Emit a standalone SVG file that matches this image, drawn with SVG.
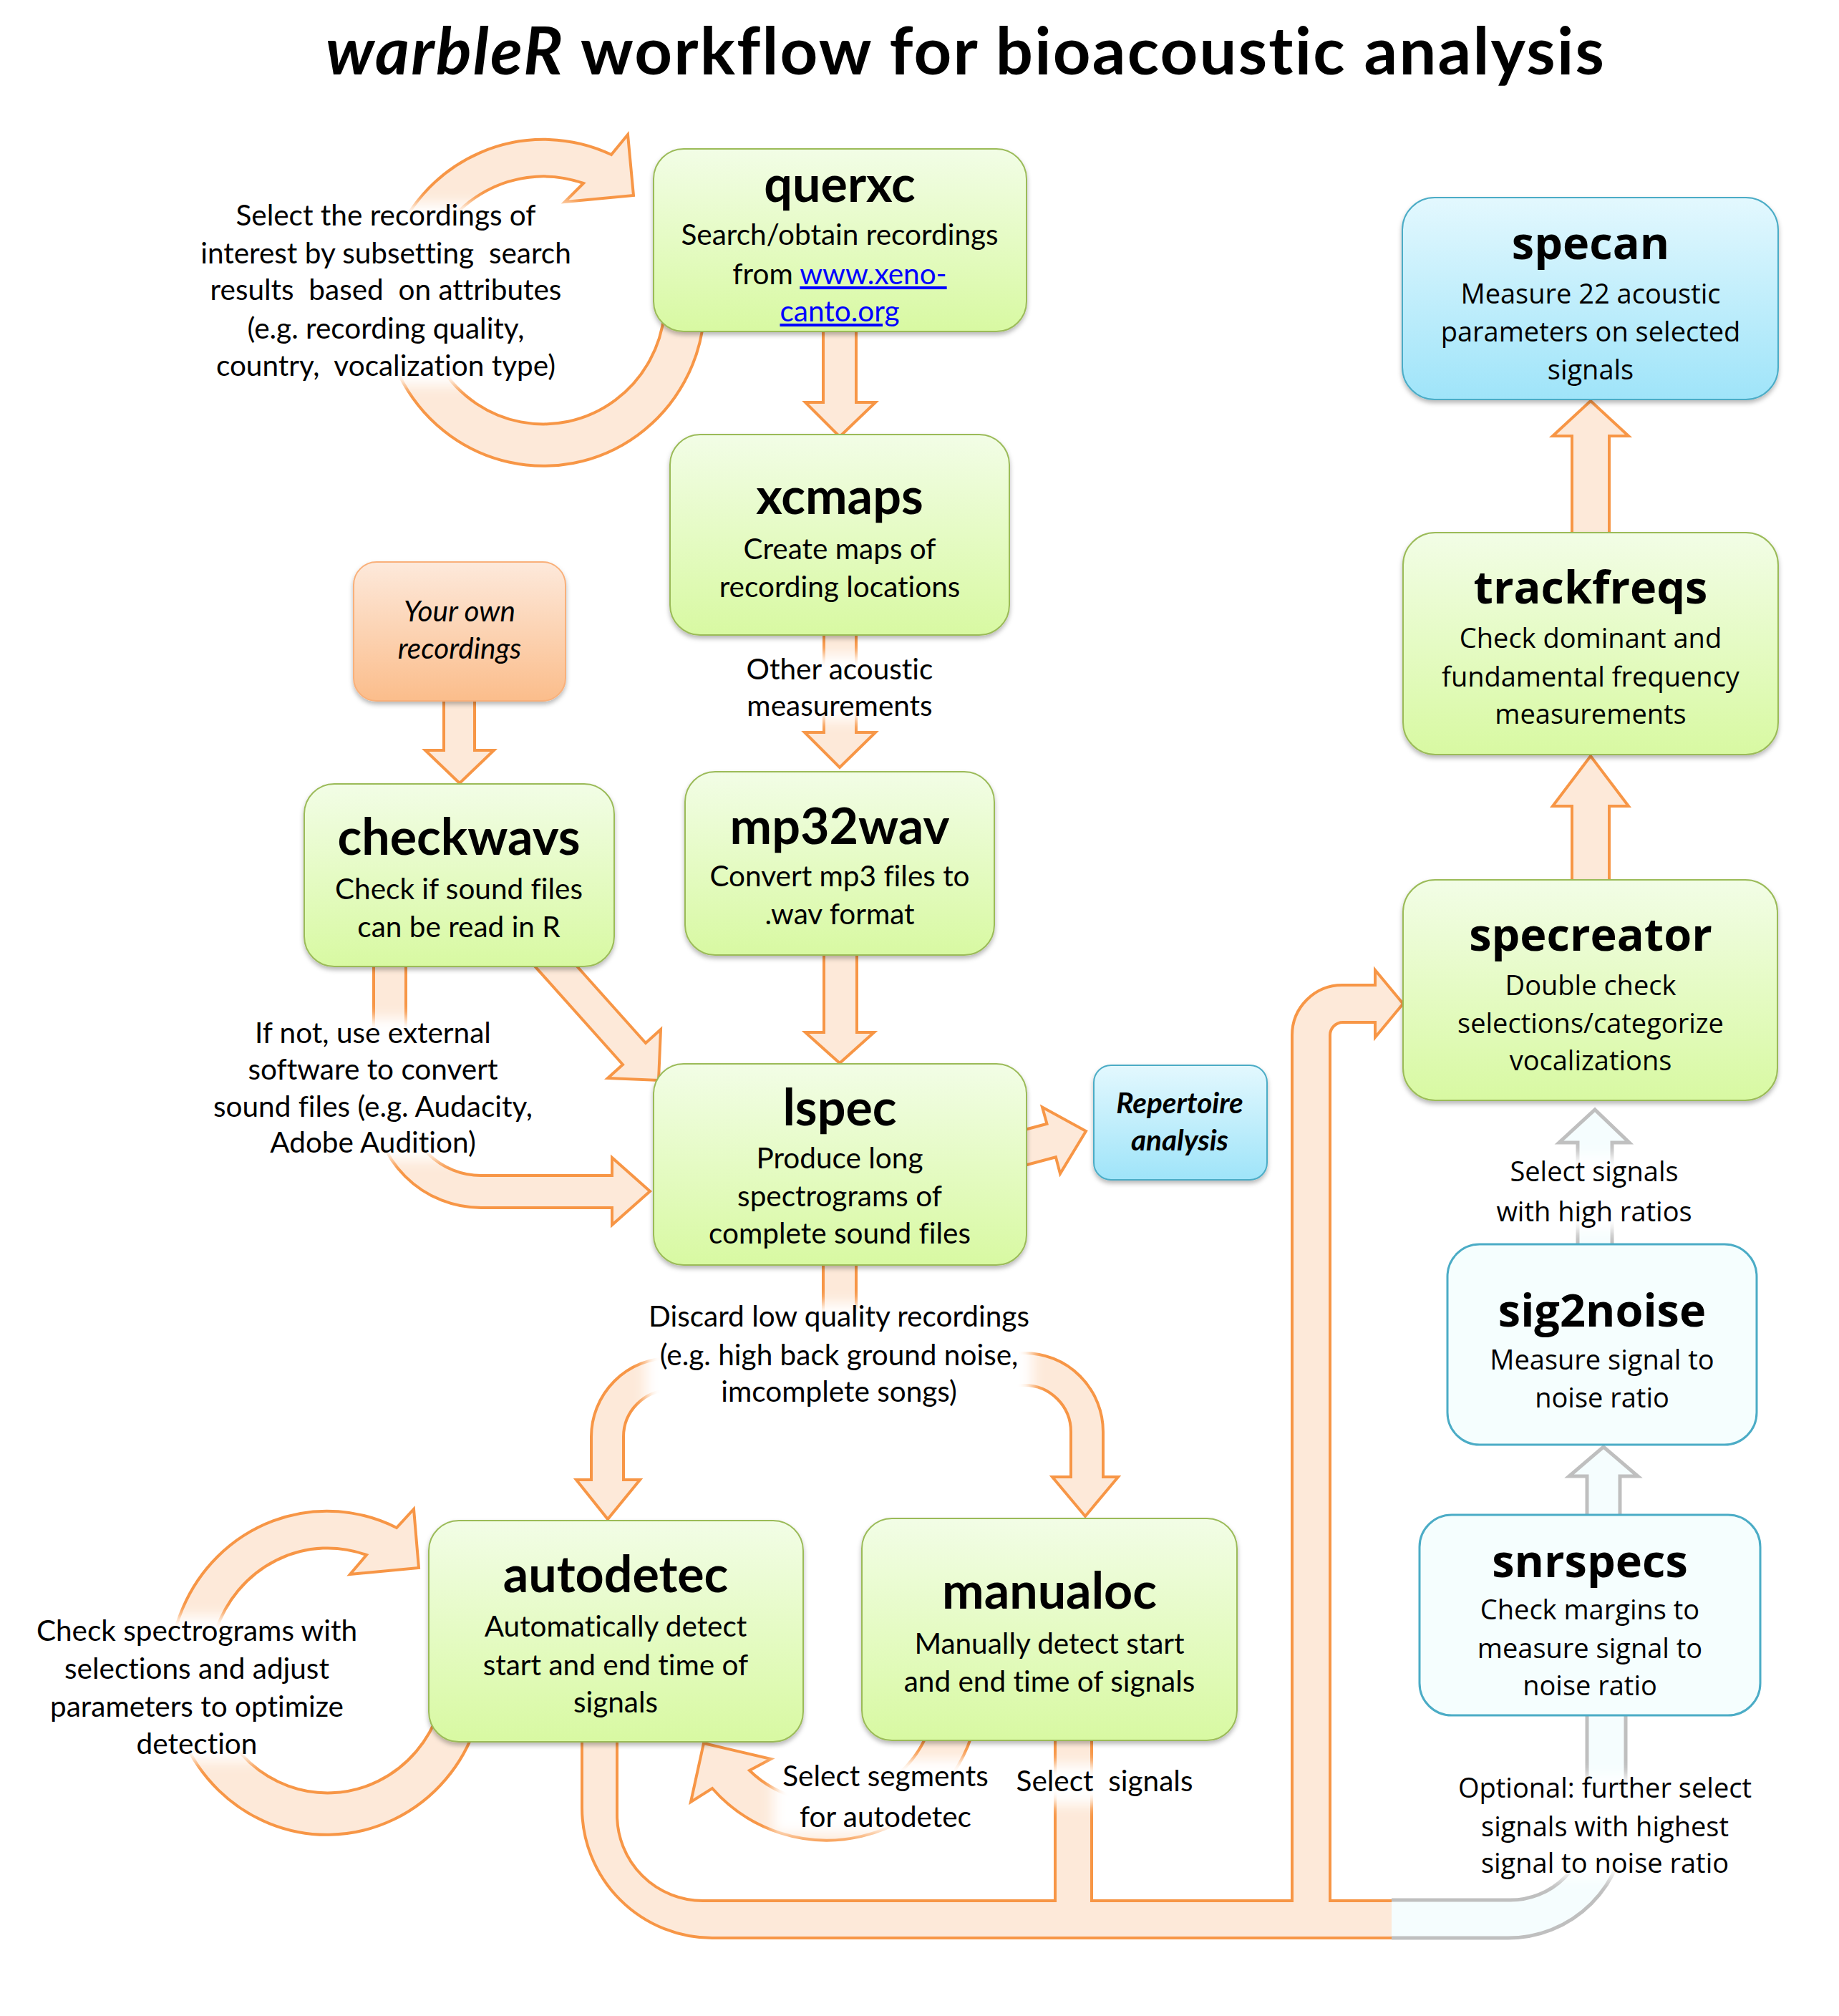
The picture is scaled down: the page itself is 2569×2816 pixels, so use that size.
<svg xmlns="http://www.w3.org/2000/svg" width="2569" height="2816" viewBox="0 0 2569 2816">
  <defs>
    <linearGradient id="gGreen" x1="0" y1="0" x2="0" y2="1">
      <stop offset="0" stop-color="#f2fde6"/>
      <stop offset="1" stop-color="#d8f9a2"/>
    </linearGradient>
    <linearGradient id="gBlue" x1="0" y1="0" x2="0" y2="1">
      <stop offset="0" stop-color="#e3f8fe"/>
      <stop offset="1" stop-color="#9fe4f9"/>
    </linearGradient>
    <linearGradient id="gOrange" x1="0" y1="0" x2="0" y2="1">
      <stop offset="0" stop-color="#fde9db"/>
      <stop offset="1" stop-color="#fbbd8b"/>
    </linearGradient>
    <filter id="shadow" x="-10%" y="-10%" width="120%" height="130%">
      <feDropShadow dx="0" dy="4" stdDeviation="3" flood-color="#000" flood-opacity="0.28"/>
    </filter>
    <filter id="soft" x="-20%" y="-40%" width="140%" height="180%">
      <feGaussianBlur stdDeviation="9"/>
    </filter>
    <style>
      .green { fill: url(#gGreen); stroke: #9bbb59; stroke-width: 2; filter: url(#shadow); }
      .blue { fill: url(#gBlue); stroke: #4bacc6; stroke-width: 2; filter: url(#shadow); }
      .pale { fill: #f5fefe; stroke: #4bacc6; stroke-width: 3; }
      .own { fill: url(#gOrange); stroke: #f9b07a; stroke-width: 2; filter: url(#shadow); }
      .arrow { fill: #fde9d9; stroke: #f79646; stroke-width: 4; stroke-linejoin: miter; }
      .garrow { fill: #f5fdfe; stroke: #bfbfbf; stroke-width: 5; stroke-linejoin: miter; }
      .fade { fill: #ffffff; filter: url(#soft); }
      text { fill: #000; text-anchor: middle; font-variant-ligatures: none; }
      .ttl { font-family: Lato, "Liberation Sans", sans-serif; font-weight: 700; font-size: 70px; }
      .sub { font-family: Lato, "Liberation Sans", sans-serif; font-size: 40.5px; }
      .ttlr { font-family: "Open Sans", "Liberation Sans", sans-serif; font-weight: 700; font-size: 63px; }
      .subr { font-family: "Open Sans", "Liberation Sans", sans-serif; font-size: 38px; }
      .lab { font-family: Lato, "Liberation Sans", sans-serif; font-size: 40.5px; white-space: pre; }
      .labr { font-family: "Open Sans", "Liberation Sans", sans-serif; font-size: 38px; }
      .link { fill: #0000ff; text-decoration: underline; }
    </style>
  </defs>

  <rect width="2569" height="2816" fill="#ffffff"/>

  <!-- title -->
  <text x="455" y="104" textLength="1786" style="text-anchor:start;font-family:Lato,'Liberation Sans',sans-serif;font-weight:700;font-size:92px"><tspan font-style="italic">warbleR</tspan> workflow for bioacoustic analysis</text>

  <!-- connectors -->
  <g id="connectors">
    <!-- querxc self loop -->
    <path class="arrow" d="M983,447 A225,228 0 1 1 854,216 L877,188 L885,273 L789,282 L815,256 A170,173 0 1 0 928,439 Z"/>
    <!-- querxc -> xcmaps -->
    <path class="arrow" d="M1150,455 L1150,562 L1125,562 L1173,610 L1223,562 L1196,562 L1196,455 Z"/>
    <!-- xcmaps -> mp32wav -->
    <path class="arrow" d="M1151,880 L1151,1023 L1124,1023 L1173,1072 L1223,1023 L1196,1023 L1196,880 Z"/>
    <!-- own recordings -> checkwavs -->
    <path class="arrow" d="M620,975 L620,1048 L594,1048 L642,1094 L690,1048 L663,1048 L663,975 Z"/>
    <!-- mp32wav -> lspec -->
    <path class="arrow" d="M1151,1330 L1151,1442 L1125,1442 L1173,1485 L1221,1442 L1197,1442 L1197,1330 Z"/>
    <!-- checkwavs -> lspec (direct) -->
    <path class="arrow" d="M766,1305 L902,1457 L923,1438 L920,1509 L849,1506 L870,1487 L734,1335 Z"/>
    <!-- checkwavs -> lspec (via external software) -->
    <path class="arrow" d="M522,1345 L522,1537 A150,150 0 0 0 672,1687 L855,1687 L855,1711 L908,1664 L855,1617 L855,1642 L672,1642 A105,105 0 0 1 567,1537 L567,1345 Z"/>
    <!-- lspec -> repertoire analysis -->
    <path class="arrow" d="M1404.5,1585.3 L1462.5,1569.8 L1456,1546.6 L1517,1580 L1481,1639.4 L1474.9,1616.2 L1416.9,1631.7 Z"/>
    <!-- lspec trunk and branches -->
    <path class="arrow" d="M1150,1760 L1150,1925 L1196,1925 L1196,1760 Z"/>
    <path class="arrow" d="M1000,1897 L936,1897 A110,110 0 0 0 826,2007 L826,2067 L805,2067 L849,2122 L894,2067 L871,2067 L871,2007 A65,65 0 0 1 936,1942 L1000,1942 Z"/>
    <path class="arrow" d="M1350,1890 L1431,1890 A110,110 0 0 1 1541,2000 L1541,2063 L1562,2063 L1516,2118 L1470,2063 L1496,2063 L1496,2000 A65,65 0 0 0 1431,1935 L1350,1935 Z"/>
    <!-- autodetec self loop -->
    <path class="arrow" d="M665,2410 A220,226 0 1 1 554,2134 L578,2108 L585,2190 L489,2199 L512,2172 A165,171 0 1 0 613,2391 Z"/>
    <!-- manualoc -> autodetec (segments) -->
    <path class="arrow" d="M1361,2412 A213,213 0 0 1 995,2498 L965,2517 L983,2435 L1077,2457 L1047,2473 A153,153 0 0 0 1303,2397 Z"/>
    <!-- selected signals -> specreator -->
    <path class="arrow" d="M1944,2655 L1858,2655 L1858,1446 A18,18 0 0 1 1876,1428 L1921,1428 L1921,1449 L1960,1402 L1921,1355 L1921,1376 L1875,1376 A70,70 0 0 0 1805,1446 L1805,2655 L1525,2655 L1525,2425 L1474,2425 L1474,2655 L982,2655 A120,120 0 0 1 862,2535 L862,2425 L813,2425 L813,2525 A182,182 0 0 0 995,2707 L1944,2707"/>
    <!-- optional path to snrspecs -->
    <path class="garrow" d="M1944,2707 L2107,2707 A164,164 0 0 0 2271,2543 L2271,2390 L2217,2390 L2217,2547 A107,107 0 0 1 2110,2654 L1944,2654"/>
    <!-- snrspecs -> sig2noise -->
    <path class="garrow" d="M2217,2120 L2217,2062 L2192,2062 L2240,2021 L2288,2062 L2263,2062 L2263,2120 Z"/>
    <!-- sig2noise -> specreator -->
    <path class="garrow" d="M2204,1745 L2204,1596 L2178,1596 L2228,1550 L2276,1596 L2252,1596 L2252,1745 Z"/>
    <!-- specreator -> trackfreqs -->
    <path class="arrow" d="M2196,1236 L2196,1126 L2169,1126 L2222,1056 L2275,1126 L2248,1126 L2248,1236 Z"/>
    <!-- trackfreqs -> specan -->
    <path class="arrow" d="M2196,750 L2196,609 L2169,609 L2222,560 L2275,609 L2248,609 L2248,750 Z"/>
  </g>

  <!-- connector labels -->
  <g id="labels">
    <rect class="fade" x="278" y="284" width="525" height="254"/>
    <text class="lab" xml:space="preserve"><tspan x="539" y="315">Select the recordings of</tspan><tspan x="539" y="368">interest by subsetting  search</tspan><tspan x="539" y="419">results  based  on attributes</tspan><tspan x="539" y="473">(e.g. recording quality,</tspan><tspan x="539" y="525">country,  vocalization type)</tspan></text>

    <rect class="fade" x="1038" y="914" width="270" height="92"/>
    <text class="lab"><tspan x="1173" y="949">Other acoustic</tspan><tspan x="1173" y="1000">measurements</tspan></text>

    <rect class="fade" x="298" y="1422" width="450" height="198"/>
    <text class="lab"><tspan x="521" y="1457">If not, use external</tspan><tspan x="521" y="1508">software to convert</tspan><tspan x="521" y="1560">sound files (e.g. Audacity,</tspan><tspan x="521" y="1610">Adobe Audition)</tspan></text>

    <rect class="fade" x="902" y="1820" width="540" height="152"/>
    <text class="lab"><tspan x="1172" y="1853">Discard low quality recordings</tspan><tspan x="1172" y="1907">(e.g. high back ground noise,</tspan><tspan x="1172" y="1958">imcomplete songs)</tspan></text>

    <rect class="fade" x="46" y="2257" width="458" height="203"/>
    <text class="lab"><tspan x="275" y="2292">Check spectrograms with</tspan><tspan x="275" y="2345">selections and adjust</tspan><tspan x="275" y="2398">parameters to optimize</tspan><tspan x="275" y="2450">detection</tspan></text>

    <rect class="fade" x="1080" y="2457" width="316" height="105"/>
    <text class="lab"><tspan x="1237" y="2495">Select segments</tspan><tspan x="1237" y="2552">for autodetec</tspan></text>

    <rect class="fade" x="1410" y="2464" width="268" height="56"/>
    <text class="lab" xml:space="preserve" x="1543" y="2502">Select  signals</text>

    <rect class="fade" x="2072" y="1614" width="312" height="106"/>
    <text class="labr" font-size="41"><tspan x="2227" y="1650">Select signals</tspan><tspan x="2227" y="1706">with high ratios</tspan></text>

    <rect class="fade" x="2032" y="2480" width="422" height="144"/>
    <text class="labr"><tspan x="2242" y="2511">Optional: further select</tspan><tspan x="2242" y="2565">signals with highest</tspan><tspan x="2242" y="2616">signal to noise ratio</tspan></text>
  </g>

  <!-- nodes -->
  <g id="querxc">
    <rect class="green" x="913" y="208" width="521" height="255" rx="42"/>
    <text class="ttl" x="1173" y="282">querxc</text>
    <text class="sub"><tspan x="1173" y="342">Search/obtain recordings</tspan><tspan x="1173" y="397">from <tspan class="link">www.xeno-</tspan></tspan><tspan x="1173" y="449" class="link">canto.org</tspan></text>
  </g>

  <g id="xcmaps">
    <rect class="green" x="936" y="607" width="474" height="280" rx="42"/>
    <text class="ttl" x="1173" y="718">xcmaps</text>
    <text class="sub"><tspan x="1173" y="781">Create maps of</tspan><tspan x="1173" y="834">recording locations</tspan></text>
  </g>

  <g id="own-recordings">
    <rect class="own" x="494" y="785" width="296" height="194" rx="32"/>
    <text class="sub" font-style="italic"><tspan x="642" y="868">Your own</tspan><tspan x="642" y="920">recordings</tspan></text>
  </g>

  <g id="checkwavs">
    <rect class="green" x="425" y="1095" width="433" height="255" rx="42"/>
    <text class="ttl" x="641" y="1194">checkwavs</text>
    <text class="sub"><tspan x="641" y="1256">Check if sound files</tspan><tspan x="641" y="1309">can be read in R</tspan></text>
  </g>

  <g id="mp32wav">
    <rect class="green" x="957" y="1078" width="432" height="256" rx="42"/>
    <text class="ttl" x="1173" y="1179">mp32wav</text>
    <text class="sub"><tspan x="1173" y="1238">Convert mp3 files to</tspan><tspan x="1173" y="1291">.wav format</tspan></text>
  </g>

  <g id="lspec">
    <rect class="green" x="913" y="1486" width="521" height="281" rx="42"/>
    <text class="ttl" x="1173" y="1572">lspec</text>
    <text class="sub"><tspan x="1173" y="1632">Produce long</tspan><tspan x="1173" y="1685">spectrograms of</tspan><tspan x="1173" y="1737">complete sound files</tspan></text>
  </g>

  <g id="repertoire">
    <rect class="blue" x="1528" y="1488" width="242" height="160" rx="24"/>
    <text class="sub" font-weight="700" font-style="italic" font-size="40"><tspan x="1648" y="1555">Repertoire</tspan><tspan x="1648" y="1607">analysis</tspan></text>
  </g>

  <g id="autodetec">
    <rect class="green" x="599" y="2124" width="523" height="309" rx="42"/>
    <text class="ttl" x="860" y="2224">autodetec</text>
    <text class="sub"><tspan x="860" y="2286">Automatically detect</tspan><tspan x="860" y="2340">start and end time of</tspan><tspan x="860" y="2392">signals</tspan></text>
  </g>

  <g id="manualoc">
    <rect class="green" x="1204" y="2121" width="524" height="310" rx="42"/>
    <text class="ttl" x="1466" y="2247">manualoc</text>
    <text class="sub"><tspan x="1466" y="2310">Manually detect start</tspan><tspan x="1466" y="2363">and end time of signals</tspan></text>
  </g>

  <g id="specan">
    <rect class="blue" x="1959" y="276" width="525" height="282" rx="45"/>
    <text class="ttlr" x="2222" y="362">specan</text>
    <text class="subr"><tspan x="2222" y="424">Measure 22 acoustic</tspan><tspan x="2222" y="477">parameters on selected</tspan><tspan x="2222" y="530">signals</tspan></text>
  </g>

  <g id="trackfreqs">
    <rect class="green" x="1960" y="744" width="524" height="310" rx="45"/>
    <text class="ttlr" x="2222" y="843">trackfreqs</text>
    <text class="subr"><tspan x="2222" y="905">Check dominant and</tspan><tspan x="2222" y="959">fundamental frequency</tspan><tspan x="2222" y="1011">measurements</tspan></text>
  </g>

  <g id="specreator">
    <rect class="green" x="1960" y="1229" width="523" height="308" rx="45"/>
    <text class="ttlr" x="2222" y="1328">specreator</text>
    <text class="subr"><tspan x="2222" y="1390">Double check</tspan><tspan x="2222" y="1443">selections/categorize</tspan><tspan x="2222" y="1495">vocalizations</tspan></text>
  </g>

  <g id="sig2noise">
    <rect class="pale" x="2022" y="1738" width="432" height="280" rx="45"/>
    <text class="ttlr" x="2238" y="1853">sig2noise</text>
    <text class="subr"><tspan x="2238" y="1913">Measure signal to</tspan><tspan x="2238" y="1966">noise ratio</tspan></text>
  </g>

  <g id="snrspecs">
    <rect class="pale" x="1983" y="2116" width="476" height="280" rx="45"/>
    <text class="ttlr" x="2221" y="2203">snrspecs</text>
    <text class="subr"><tspan x="2221" y="2262">Check margins to</tspan><tspan x="2221" y="2316">measure signal to</tspan><tspan x="2221" y="2368">noise ratio</tspan></text>
  </g>
</svg>
